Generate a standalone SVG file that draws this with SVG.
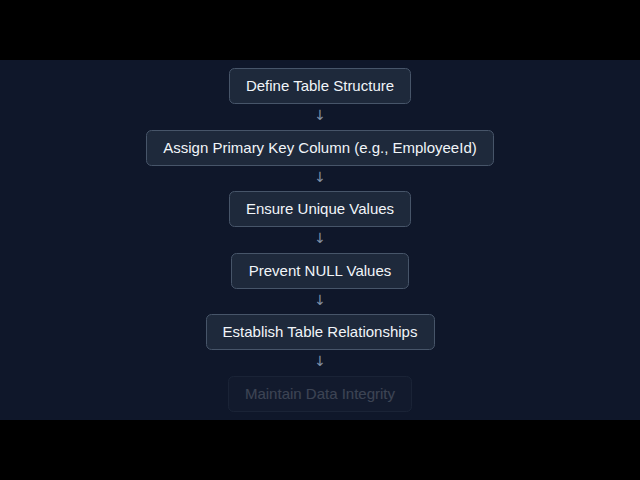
<svg xmlns="http://www.w3.org/2000/svg" width="640" height="480" viewBox="0 0 640 480">
<style>
.box{fill:#1e293b;stroke:#475569;stroke-width:1}
.lbl{font-family:"Liberation Sans",Arial,sans-serif;font-size:15px;fill:#f1f5f9;text-anchor:middle}
.arr{font-family:"DejaVu Sans",sans-serif;font-size:14px;fill:#8391a7;text-anchor:middle}
</style>
<rect x="0" y="0" width="640" height="480" fill="#000"/>
<rect x="0" y="60" width="640" height="360" fill="#0f172a"/>
<g id="connectors">
<text class="arr" x="320" y="120">↓</text>
<text class="arr" x="320" y="182">↓</text>
<text class="arr" x="320" y="243">↓</text>
<text class="arr" x="320" y="305">↓</text>
<text class="arr" x="320" y="366">↓</text>
</g>
<g id="n1"><rect class="box" x="229.5" y="68.5" width="181" height="35" rx="5"/><text class="lbl" x="320" y="91">Define Table Structure</text></g>
<g id="n2"><rect class="box" x="146.5" y="130.5" width="347" height="35" rx="5"/><text class="lbl" x="320" y="153">Assign Primary Key Column (e.g., EmployeeId)</text></g>
<g id="n3"><rect class="box" x="229.5" y="191.5" width="181" height="35" rx="5"/><text class="lbl" x="320" y="214">Ensure Unique Values</text></g>
<g id="n4"><rect class="box" x="231.5" y="253.5" width="177" height="35" rx="5"/><text class="lbl" x="320" y="276">Prevent NULL Values</text></g>
<g id="n5"><rect class="box" x="206.5" y="314.5" width="228" height="35" rx="5"/><text class="lbl" x="320" y="337">Establish Table Relationships</text></g>
<g id="n6" opacity="0.2"><rect class="box" x="228.5" y="376.5" width="183" height="35" rx="5"/><text class="lbl" x="320" y="399">Maintain Data Integrity</text></g>
</svg>
